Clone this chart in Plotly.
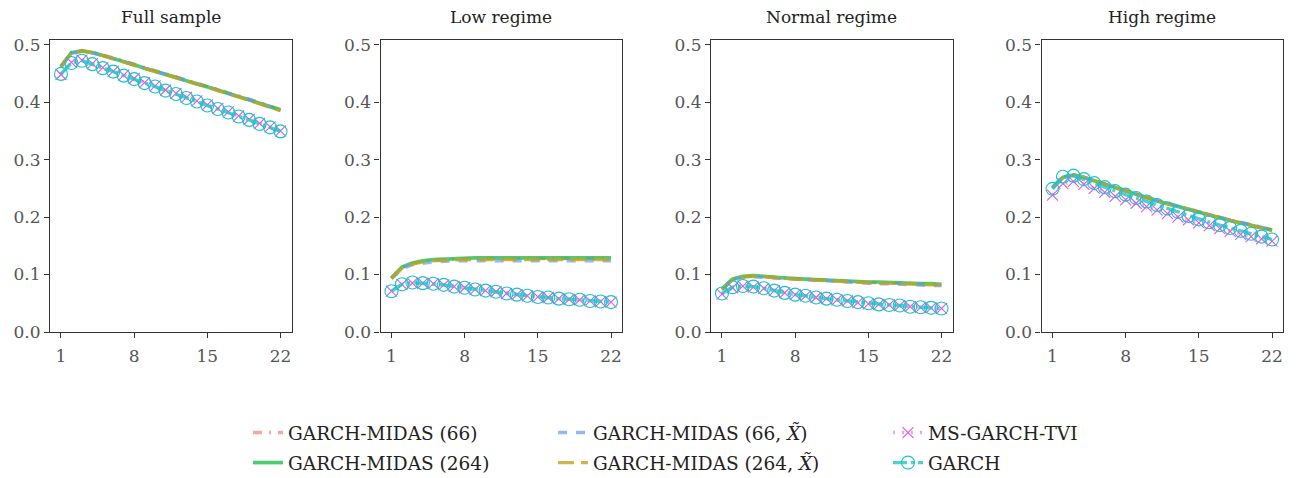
import plotly.graph_objects as go

horizons = list(range(1, 23))
panel_titles = ["Full sample", "Low regime", "Normal regime", "High regime"]
x_ticks = [1, 8, 15, 22]
y_ticks = [0.0, 0.1, 0.2, 0.3, 0.4, 0.5]

# ---- Full sample ----
full_gm66 = [0.462, 0.486, 0.489, 0.487, 0.482, 0.477, 0.471, 0.466, 0.460, 0.455, 0.449, 0.444, 0.438, 0.433, 0.427, 0.422, 0.416, 0.411, 0.405, 0.399, 0.393, 0.387]
full_gm264 = [0.462, 0.486, 0.489, 0.486, 0.481, 0.476, 0.470, 0.465, 0.459, 0.454, 0.448, 0.443, 0.437, 0.432, 0.426, 0.421, 0.415, 0.410, 0.404, 0.398, 0.392, 0.386]
full_gm66x = [0.461, 0.485, 0.488, 0.486, 0.481, 0.476, 0.470, 0.465, 0.459, 0.454, 0.448, 0.443, 0.437, 0.432, 0.426, 0.421, 0.415, 0.410, 0.404, 0.398, 0.392, 0.386]
full_gm264x = [0.462, 0.486, 0.489, 0.486, 0.481, 0.476, 0.470, 0.464, 0.459, 0.453, 0.448, 0.442, 0.437, 0.431, 0.426, 0.420, 0.415, 0.409, 0.403, 0.397, 0.391, 0.385]
full_ms = [0.448, 0.469, 0.473, 0.467, 0.460, 0.454, 0.447, 0.441, 0.434, 0.428, 0.421, 0.415, 0.408, 0.402, 0.395, 0.389, 0.383, 0.376, 0.370, 0.363, 0.357, 0.350]
full_garch = [0.449, 0.468, 0.472, 0.466, 0.459, 0.453, 0.446, 0.440, 0.433, 0.427, 0.420, 0.414, 0.407, 0.401, 0.394, 0.388, 0.382, 0.375, 0.369, 0.362, 0.356, 0.349]

# ---- Low regime ----
low_gm66 = [0.094, 0.112, 0.119, 0.123, 0.125, 0.126, 0.127, 0.128, 0.128, 0.128, 0.128, 0.128, 0.128, 0.128, 0.128, 0.128, 0.128, 0.128, 0.128, 0.128, 0.128, 0.128]
low_gm264 = [0.094, 0.113, 0.120, 0.124, 0.126, 0.127, 0.128, 0.129, 0.129, 0.129, 0.129, 0.129, 0.129, 0.129, 0.129, 0.129, 0.129, 0.129, 0.129, 0.129, 0.129, 0.129]
low_gm66x = [0.093, 0.110, 0.117, 0.120, 0.122, 0.123, 0.124, 0.124, 0.124, 0.124, 0.124, 0.124, 0.124, 0.124, 0.124, 0.124, 0.124, 0.124, 0.124, 0.124, 0.124, 0.124]
low_gm264x = [0.093, 0.111, 0.118, 0.122, 0.124, 0.125, 0.126, 0.126, 0.126, 0.126, 0.126, 0.126, 0.126, 0.126, 0.126, 0.126, 0.126, 0.126, 0.126, 0.126, 0.126, 0.126]
low_ms = [0.071, 0.083, 0.085, 0.085, 0.084, 0.082, 0.079, 0.077, 0.074, 0.072, 0.070, 0.067, 0.065, 0.063, 0.061, 0.060, 0.058, 0.057, 0.056, 0.054, 0.053, 0.052]
low_garch = [0.071, 0.083, 0.086, 0.085, 0.084, 0.082, 0.079, 0.077, 0.074, 0.072, 0.070, 0.067, 0.065, 0.063, 0.061, 0.060, 0.058, 0.057, 0.056, 0.054, 0.053, 0.052]

# ---- Normal regime ----
norm_gm66 = [0.074, 0.091, 0.096, 0.097, 0.096, 0.095, 0.093, 0.092, 0.091, 0.090, 0.089, 0.089, 0.088, 0.087, 0.086, 0.086, 0.085, 0.084, 0.084, 0.083, 0.083, 0.082]
norm_gm264 = [0.075, 0.092, 0.097, 0.098, 0.097, 0.095, 0.094, 0.093, 0.092, 0.091, 0.090, 0.090, 0.089, 0.088, 0.087, 0.087, 0.086, 0.085, 0.085, 0.084, 0.084, 0.083]
norm_gm66x = [0.074, 0.090, 0.095, 0.096, 0.095, 0.094, 0.092, 0.091, 0.090, 0.089, 0.088, 0.087, 0.087, 0.086, 0.085, 0.084, 0.084, 0.083, 0.082, 0.082, 0.081, 0.081]
norm_gm264x = [0.074, 0.091, 0.096, 0.097, 0.096, 0.094, 0.093, 0.092, 0.091, 0.090, 0.089, 0.088, 0.088, 0.087, 0.086, 0.085, 0.085, 0.084, 0.083, 0.083, 0.082, 0.082]
norm_ms = [0.066, 0.077, 0.080, 0.078, 0.076, 0.072, 0.068, 0.065, 0.063, 0.060, 0.058, 0.056, 0.054, 0.051, 0.049, 0.048, 0.047, 0.046, 0.044, 0.043, 0.042, 0.041]
norm_garch = [0.067, 0.078, 0.080, 0.079, 0.076, 0.072, 0.068, 0.065, 0.063, 0.060, 0.058, 0.056, 0.054, 0.052, 0.050, 0.048, 0.047, 0.046, 0.044, 0.043, 0.042, 0.041]

# ---- High regime ----
high_gm66 = [0.252, 0.270, 0.274, 0.270, 0.264, 0.258, 0.252, 0.246, 0.240, 0.235, 0.229, 0.224, 0.219, 0.214, 0.209, 0.204, 0.200, 0.195, 0.191, 0.187, 0.182, 0.178]
high_gm264 = [0.251, 0.269, 0.273, 0.269, 0.263, 0.257, 0.251, 0.245, 0.239, 0.234, 0.228, 0.223, 0.218, 0.213, 0.208, 0.203, 0.199, 0.194, 0.190, 0.186, 0.181, 0.177]
high_gm66x = [0.252, 0.270, 0.273, 0.269, 0.263, 0.257, 0.251, 0.245, 0.240, 0.234, 0.229, 0.224, 0.218, 0.213, 0.208, 0.204, 0.199, 0.195, 0.190, 0.186, 0.182, 0.177]
high_gm264x = [0.251, 0.269, 0.273, 0.269, 0.263, 0.257, 0.251, 0.245, 0.239, 0.233, 0.228, 0.223, 0.218, 0.213, 0.208, 0.203, 0.198, 0.194, 0.189, 0.185, 0.181, 0.176]
high_ms = [0.238, 0.258, 0.262, 0.257, 0.250, 0.243, 0.236, 0.230, 0.224, 0.218, 0.212, 0.206, 0.200, 0.195, 0.190, 0.185, 0.180, 0.175, 0.170, 0.166, 0.162, 0.158]
high_garch = [0.249, 0.270, 0.272, 0.266, 0.259, 0.252, 0.245, 0.239, 0.233, 0.227, 0.221, 0.215, 0.209, 0.202, 0.196, 0.191, 0.186, 0.181, 0.176, 0.171, 0.166, 0.161]

series_names = ["GARCH-MIDAS (66)", "GARCH-MIDAS (264)",
                "GARCH-MIDAS (66, <i>X̃</i>)", "GARCH-MIDAS (264, <i>X̃</i>)",
                "MS-GARCH-TVI", "GARCH"]
panel_data = [
    [full_gm66, full_gm264, full_gm66x, full_gm264x, full_ms, full_garch],
    [low_gm66, low_gm264, low_gm66x, low_gm264x, low_ms, low_garch],
    [norm_gm66, norm_gm264, norm_gm66x, norm_gm264x, norm_ms, norm_garch],
    [high_gm66, high_gm264, high_gm66x, high_gm264x, high_ms, high_garch],
]

styles = [
    dict(color="rgba(240,120,110,0.65)", dash="9px,7px,2px,7px", width=3.4, marker=None, legend="legend"),
    dict(color="rgba(40,190,85,0.82)", dash="solid", width=3.7, marker=None, legend="legend"),
    dict(color="rgba(100,155,245,0.70)", dash="9px,9px", width=3.4, marker=None, legend="legend2"),
    dict(color="rgba(190,165,30,0.80)", dash="16px,7px", width=3.4, marker=None, legend="legend2"),
    dict(color="rgba(235,100,230,0.60)", dash="2px,7px", width=3.4,
         marker=dict(symbol="x-thin-open", size=11, color="rgb(228,85,228)",
                     line=dict(color="rgb(228,85,228)", width=1.1)), legend="legend3"),
    dict(color="rgba(30,200,200,0.80)", dash="14px,4px,3px,4px", width=3.4,
         marker=dict(symbol="circle-open", size=13, color="rgb(25,195,205)",
                     line=dict(color="rgb(25,195,205)", width=1.1)), legend="legend3"),
]

FONT = "DejaVu Serif"
FS = 17
FS_LEG = 18.5
W, H = 1298, 478
left_px = [50, 380.5, 711, 1041.5]
panel_w = 241.5
top_px, bot_px = 40, 332

fig = go.Figure()
for p in range(4):
    xa = "x" if p == 0 else f"x{p+1}"
    ya = "y" if p == 0 else f"y{p+1}"
    for s in range(6):
        st = styles[s]
        kw = dict(x=horizons, y=panel_data[p][s], name=series_names[s],
                  xaxis=xa, yaxis=ya,
                  line=dict(color=st["color"], dash=st["dash"], width=st["width"]),
                  legend=st["legend"], legendgroup=f"g{s}",
                  showlegend=(p == 0), hoverinfo="skip")
        if st["marker"] is not None:
            kw["mode"] = "lines+markers"
            kw["marker"] = st["marker"]
        else:
            kw["mode"] = "lines"
        fig.add_trace(go.Scatter(**kw))

axis_common = dict(showgrid=False, zeroline=False, showline=True, linecolor="#333333",
                   linewidth=1.2, mirror=True, ticks="outside", ticklen=5, tickwidth=1.2,
                   tickcolor="#333333", tickfont=dict(family=FONT, size=FS, color="#555555"))
layout = dict(width=W, height=H, margin=dict(l=0, r=0, t=0, b=0, autoexpand=False),
              plot_bgcolor="white", paper_bgcolor="white",
              font=dict(family=FONT, size=FS, color="#222222"))
annotations = []
for p in range(4):
    x0 = left_px[p] / W
    x1 = (left_px[p] + panel_w) / W
    sx = "" if p == 0 else str(p + 1)
    layout[f"xaxis{sx}"] = dict(domain=[x0, x1], range=[-0.05, 23.05], tickvals=x_ticks,
                                anchor=f"y{sx}", ticklabelstandoff=3, **axis_common)
    layout[f"yaxis{sx}"] = dict(domain=[1 - bot_px / H, 1 - top_px / H], range=[0, 0.508],
                                tickvals=y_ticks, tickformat=".1f", anchor=f"x{sx}",
                                **axis_common)
    annotations.append(dict(text=panel_titles[p], x=(x0 + x1) / 2, y=1 - 17 / H,
                            xref="paper", yref="paper", xanchor="center", yanchor="middle",
                            showarrow=False, font=dict(family=FONT, size=FS, color="#222222")))
layout["annotations"] = annotations

leg_common = dict(orientation="v", xanchor="left", yanchor="bottom", bgcolor="rgba(0,0,0,0)",
                  borderwidth=0, tracegroupgap=3, itemwidth=30,
                  font=dict(family=FONT, size=FS_LEG, color="#222222"))
leg_y = -4 / H
layout["legend"] = dict(x=(290 - 42) / W, y=leg_y, **leg_common)
layout["legend2"] = dict(x=(595 - 42) / W, y=leg_y, **leg_common)
layout["legend3"] = dict(x=(930 - 42) / W, y=leg_y, **leg_common)

fig.update_layout(**layout)
fig.write_html("out.html")
